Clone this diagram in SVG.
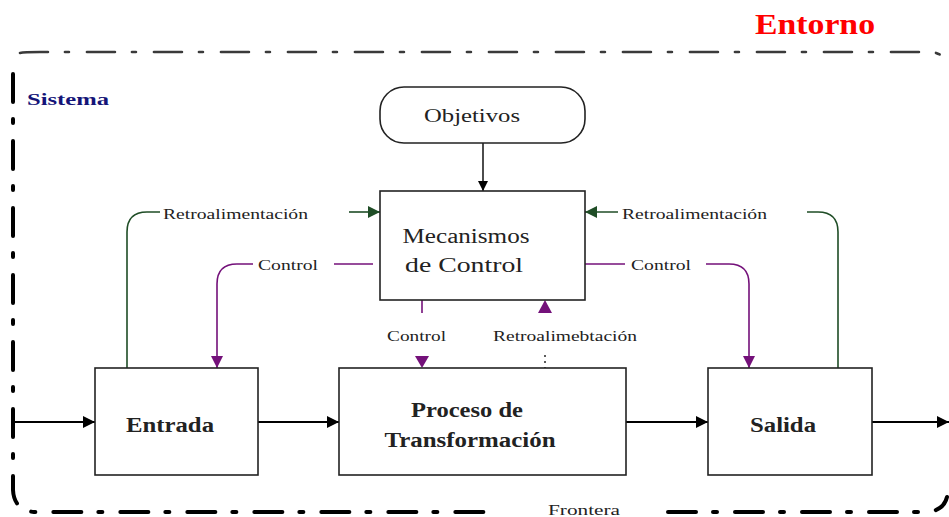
<svg xmlns="http://www.w3.org/2000/svg" width="949" height="517" viewBox="0 0 949 517">
  <defs>
    <style>
      .serif { font-family: "Liberation Serif", "Times New Roman", serif; }
      .box { fill: #ffffff; stroke: #222222; stroke-width: 1.6; }
      .lbl { font-size: 15px; fill: #222222; }
      .big { font-size: 20px; fill: #222222; }
      .bold { font-weight: bold; }
      .flow { stroke: #000000; stroke-width: 2.2; fill: none; }
      .green { stroke: #1f4d26; stroke-width: 1.6; fill: none; }
      .purple { stroke: #74117a; stroke-width: 1.6; fill: none; }
      .border { fill: none; stroke-dasharray: 28 17 4 18; stroke-linecap: round; }
    </style>
    <marker id="ahBlack" viewBox="0 0 10 10" refX="10" refY="5" markerWidth="12" markerHeight="12" markerUnits="userSpaceOnUse" orient="auto">
      <path d="M0,0 L10,5 L0,10 z" fill="#000000"/>
    </marker>
    <marker id="ahThin" viewBox="0 0 10 10" refX="10" refY="5" markerWidth="10" markerHeight="10" markerUnits="userSpaceOnUse" orient="auto">
      <path d="M0,0 L10,5 L0,10 z" fill="#000000"/>
    </marker>
    <marker id="ahGreen" viewBox="0 0 10 10" refX="10" refY="5" markerWidth="12" markerHeight="12" markerUnits="userSpaceOnUse" orient="auto">
      <path d="M0,0 L10,5 L0,10 z" fill="#1f4d26"/>
    </marker>
    <marker id="ahPurple" viewBox="0 0 10 10" refX="10" refY="5" markerWidth="12" markerHeight="12" markerUnits="userSpaceOnUse" orient="auto">
      <path d="M0,0 L10,5 L0,10 z" fill="#74117a"/>
    </marker>
  </defs>

  <rect width="949" height="517" fill="#ffffff"/>

  <!-- Environment / system boundary -->
  <g id="boundary">
    <path class="border" d="M20,53 Q24,52 40,52 L932,52 Q946,54 947,68" stroke="#3a3a3a" stroke-width="2.6"/>
    <path class="border" d="M13,74 L13,490 Q14,510 34,512 L500,512" stroke="#000000" stroke-width="4"/>
    <path class="border" d="M668,512 L928,512 Q944,510 947,497" stroke="#000000" stroke-width="4"/>
    <text class="serif" x="755" y="34" font-size="30" font-weight="bold" fill="#ff0000" textLength="120" lengthAdjust="spacingAndGlyphs">Entorno</text>
    <text class="serif" x="27" y="105" font-size="17" font-weight="bold" fill="#141478" textLength="82" lengthAdjust="spacingAndGlyphs">Sistema</text>
    <text class="serif" x="548" y="515" font-size="15" fill="#222222" textLength="72" lengthAdjust="spacingAndGlyphs">Frontera</text>
  </g>

  <!-- Connectors -->
  <g id="connectors">
    <!-- main flow -->
    <line class="flow" x1="13" y1="422" x2="95" y2="422" marker-end="url(#ahBlack)"/>
    <line class="flow" x1="258" y1="422" x2="339" y2="422" marker-end="url(#ahBlack)"/>
    <line class="flow" x1="626" y1="422" x2="708" y2="422" marker-end="url(#ahBlack)"/>
    <line class="flow" x1="872" y1="422" x2="949" y2="422" marker-end="url(#ahBlack)"/>
    <!-- objectives to control -->
    <line stroke="#000000" stroke-width="1.4" x1="483" y1="143" x2="483" y2="191" marker-end="url(#ahThin)"/>

    <!-- feedback, left -->
    <path class="green" d="M127,368 L127,232 Q127,212 147,212 L160,212"/>
    <line class="green" x1="349" y1="212" x2="380" y2="212" marker-end="url(#ahGreen)"/>
    <text class="serif lbl" x="163" y="219" textLength="145" lengthAdjust="spacingAndGlyphs">Retroalimentación</text>

    <!-- feedback, right -->
    <line class="green" x1="618" y1="212" x2="585" y2="212" marker-end="url(#ahGreen)"/>
    <path class="green" d="M807,212 L818,212 Q838,212 838,232 L838,368"/>
    <text class="serif lbl" x="622" y="219" textLength="145" lengthAdjust="spacingAndGlyphs">Retroalimentación</text>

    <!-- control, left -->
    <line class="purple" x1="334" y1="264" x2="373" y2="264"/>
    <path class="purple" d="M253,264 L237,264 Q217,264 217,284 L217,368" marker-end="url(#ahPurple)"/>
    <text class="serif lbl" x="258" y="270" textLength="60" lengthAdjust="spacingAndGlyphs">Control</text>

    <!-- control, right -->
    <line class="purple" x1="585" y1="264" x2="625" y2="264"/>
    <path class="purple" d="M706,264 L729,264 Q749,264 749,284 L749,368" marker-end="url(#ahPurple)"/>
    <text class="serif lbl" x="631" y="270" textLength="60" lengthAdjust="spacingAndGlyphs">Control</text>

    <!-- control, down to process -->
    <line class="purple" x1="422" y1="300" x2="422" y2="313" stroke-width="2.2"/>
    <path d="M415,356 L429,356 L422,368 z" fill="#74117a"/>
    <text class="serif lbl" x="387" y="341" textLength="59" lengthAdjust="spacingAndGlyphs">Control</text>

    <!-- feedback from process -->
    <path d="M538,313 L552,313 L545,300 z" fill="#74117a"/>
    <line x1="545" y1="355" x2="545" y2="368" stroke="#333333" stroke-width="1.6" stroke-dasharray="2 4"/>
    <text class="serif lbl" x="493" y="341" textLength="144" lengthAdjust="spacingAndGlyphs">Retroalimebtación</text>
  </g>

  <!-- Nodes -->
  <g id="objetivos">
    <rect class="box" x="380" y="87" width="205" height="56" rx="24" ry="24"/>
    <text class="serif" x="472" y="122" font-size="19" fill="#222222" text-anchor="middle" textLength="96" lengthAdjust="spacingAndGlyphs">Objetivos</text>
  </g>

  <g id="mecanismos">
    <rect class="box" x="380" y="191" width="205" height="109"/>
    <text class="serif big" x="466" y="243" text-anchor="middle" textLength="127" lengthAdjust="spacingAndGlyphs">Mecanismos</text>
    <text class="serif big" x="464" y="272" text-anchor="middle" textLength="118" lengthAdjust="spacingAndGlyphs">de Control</text>
  </g>

  <g id="entrada">
    <rect class="box" x="95" y="368" width="163" height="107"/>
    <text class="serif big bold" x="170" y="432" text-anchor="middle" textLength="88" lengthAdjust="spacingAndGlyphs">Entrada</text>
  </g>

  <g id="proceso">
    <rect class="box" x="339" y="368" width="287" height="107"/>
    <text class="serif big bold" x="467" y="417" text-anchor="middle" textLength="112" lengthAdjust="spacingAndGlyphs">Proceso de</text>
    <text class="serif big bold" x="470" y="447" text-anchor="middle" textLength="171" lengthAdjust="spacingAndGlyphs">Transformación</text>
  </g>

  <g id="salida">
    <rect class="box" x="708" y="368" width="164" height="107"/>
    <text class="serif big bold" x="783" y="432" text-anchor="middle" textLength="66" lengthAdjust="spacingAndGlyphs">Salida</text>
  </g>
</svg>
